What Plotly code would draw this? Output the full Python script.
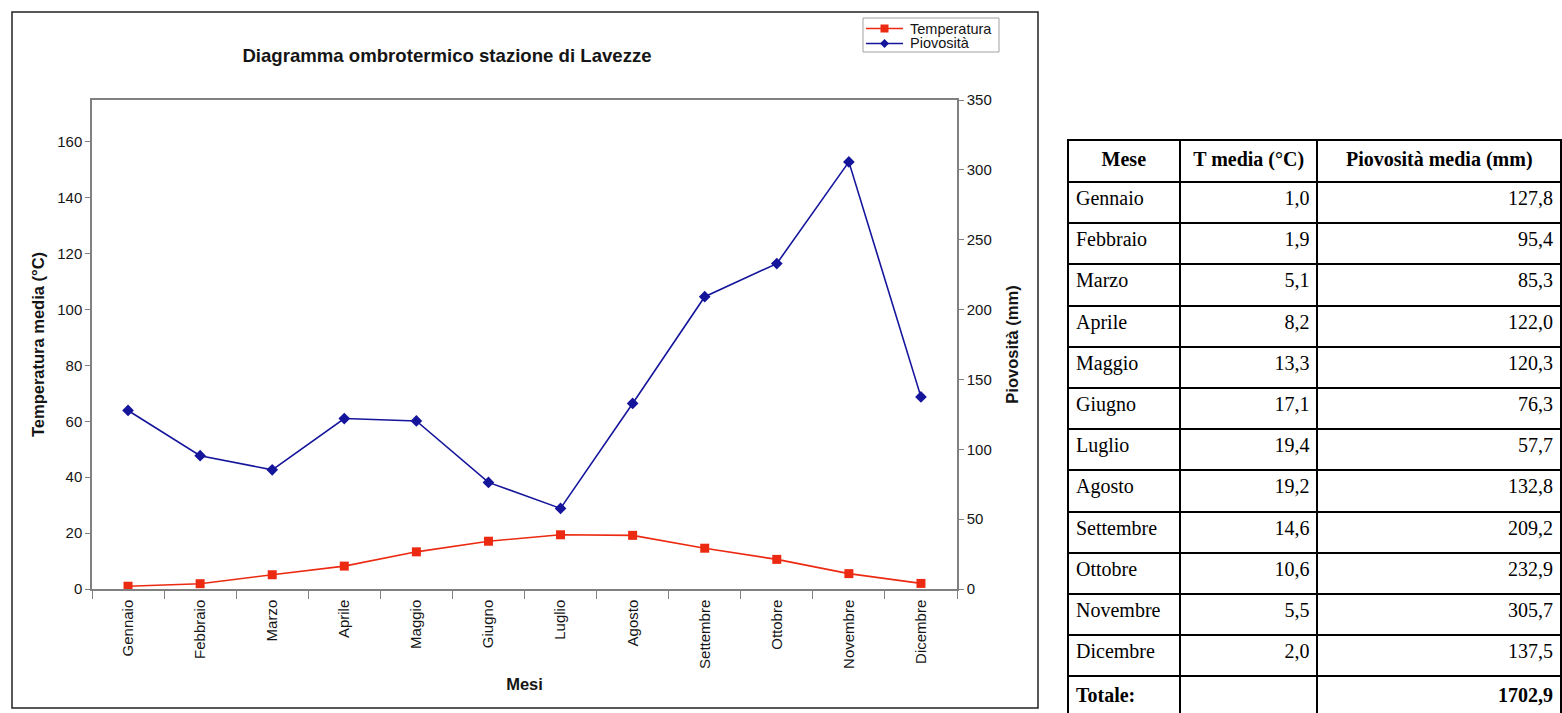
import plotly.graph_objects as go

# Monthly climate normals, Lavezze station
mesi = ["Gennaio", "Febbraio", "Marzo", "Aprile", "Maggio", "Giugno",
        "Luglio", "Agosto", "Settembre", "Ottobre", "Novembre", "Dicembre"]
temperatura = [1.0, 1.9, 5.1, 8.2, 13.3, 17.1, 19.4, 19.2, 14.6, 10.6, 5.5, 2.0]
piovosita = [127.8, 95.4, 85.3, 122.0, 120.3, 76.3, 57.7, 132.8, 209.2, 232.9, 305.7, 137.5]
totale_piovosita = "1702,9"

temp_ticks = [0, 20, 40, 60, 80, 100, 120, 140, 160]
rain_ticks = [0, 50, 100, 150, 200, 250, 300, 350]

W, H = 1562, 713

RED = "#ec2a12"
BLUE = "#15159c"
AX = "#808080"
TXT = "#151515"
FONT = "Liberation Sans, Arial, sans-serif"
SERIF = "Liberation Serif, Times New Roman, serif"


def px_x(v):
    return v / W


def px_y(v):
    return 1 - v / H


def it(v):
    return f"{v:.1f}".replace(".", ",")


fig = go.Figure()

fig.add_trace(go.Scatter(
    x=mesi, y=temperatura, name="Temperatura", yaxis="y",
    mode="lines+markers",
    line=dict(color=RED, width=1.6),
    marker=dict(symbol="square", size=9, color=RED),
))
fig.add_trace(go.Scatter(
    x=mesi, y=piovosita, name="Piovosità", yaxis="y2",
    mode="lines+markers",
    line=dict(color=BLUE, width=1.6),
    marker=dict(symbol="diamond", size=9, color=BLUE),
))

# Data table beside the chart
header_vals = ["<b>Mese</b>", "<b>T media (°C)</b>", "<b>Piovosità media (mm)</b>"]
col_mese = mesi + ["<b>Totale:</b>"]
col_temp = [it(t) for t in temperatura] + [""]
col_rain = [it(p) for p in piovosita] + [f"<b>{totale_piovosita}</b>"]

fig.add_trace(go.Table(
    domain=dict(x=[px_x(1068), 1.0], y=[0.0, px_y(140)]),
    columnwidth=[112, 138, 244],
    header=dict(
        values=header_vals,
        align=["center", "center", "center"],
        font=dict(family=SERIF, size=20, color="black"),
        fill_color="white",
        line=dict(color="black", width=2),
        height=42,
    ),
    cells=dict(
        values=[col_mese, col_temp, col_rain],
        align=["left", "right", "right"],
        font=dict(family=SERIF, size=20, color="black"),
        fill_color="white",
        line=dict(color="black", width=2),
        height=41.2,
    ),
))

# Legend box drawn as annotations and shapes
LEG_Y1, LEG_Y2 = 28.5, 43.5
leg_shapes = [
    dict(type="rect", xref="paper", yref="paper",
         x0=px_x(863), x1=px_x(999), y0=px_y(52), y1=px_y(18),
         line=dict(color="#a0a0a0", width=1), fillcolor="white"),
    dict(type="line", xref="paper", yref="paper",
         x0=px_x(866), x1=px_x(903), y0=px_y(LEG_Y1), y1=px_y(LEG_Y1),
         line=dict(color=RED, width=1.6)),
    dict(type="rect", xref="paper", yref="paper",
         x0=px_x(880.5), x1=px_x(888.5), y0=px_y(LEG_Y1 + 4), y1=px_y(LEG_Y1 - 4),
         line=dict(width=0), fillcolor=RED),
    dict(type="line", xref="paper", yref="paper",
         x0=px_x(866), x1=px_x(903), y0=px_y(LEG_Y2), y1=px_y(LEG_Y2),
         line=dict(color=BLUE, width=1.6)),
    dict(type="path", xref="paper", yref="paper",
         path=(f"M {px_x(884.5)} {px_y(LEG_Y2 - 4.5)} L {px_x(889)} {px_y(LEG_Y2)} "
               f"L {px_x(884.5)} {px_y(LEG_Y2 + 4.5)} L {px_x(880)} {px_y(LEG_Y2)} Z"),
         line=dict(width=0), fillcolor=BLUE),
]
leg_annots = [
    dict(text="Temperatura", xref="paper", yref="paper",
         x=px_x(908), y=px_y(LEG_Y1), xanchor="left", yanchor="middle",
         showarrow=False, font=dict(family=FONT, size=14.5, color=TXT)),
    dict(text="Piovosità", xref="paper", yref="paper",
         x=px_x(908), y=px_y(LEG_Y2), xanchor="left", yanchor="middle",
         showarrow=False, font=dict(family=FONT, size=14.5, color=TXT)),
]

fig.update_layout(
    width=W, height=H, autosize=False,
    margin=dict(l=0, r=0, t=0, b=0, pad=0, autoexpand=False),
    paper_bgcolor="white",
    plot_bgcolor="white",
    font=dict(family=FONT, size=15, color=TXT),
    showlegend=False,
    title=dict(
        text="<b>Diagramma ombrotermico stazione di Lavezze</b>",
        x=px_x(447), xanchor="center", y=px_y(55), yanchor="middle",
        font=dict(family=FONT, size=18.6, color=TXT),
    ),
    xaxis=dict(
        domain=[px_x(92), px_x(957)],
        type="category",
        automargin=False,
        tickson="boundaries",
        ticks="outside", ticklen=8, tickcolor=AX,
        ticklabelstandoff=3,
        tickangle=-90,
        showline=True, linecolor=AX, linewidth=1.5, mirror=True,
        showgrid=False, zeroline=False,
        tickfont=dict(size=15, color=TXT),
        title=dict(text="<b>Mesi</b>", standoff=10,
                   font=dict(size=16.5, color=TXT)),
        range=[-0.5, 11.5],
    ),
    yaxis=dict(
        domain=[px_y(589), px_y(100)],
        range=[0, 175],
        automargin=False,
        tickvals=temp_ticks,
        ticks="outside", ticklen=5, tickcolor=AX,
        showline=True, linecolor=AX, linewidth=1.5,
        showgrid=False, zeroline=False,
        tickfont=dict(size=15, color=TXT),
        title=dict(text="<b>Temperatura media (°C)</b>", standoff=8,
                   font=dict(size=16.5, color=TXT)),
    ),
    yaxis2=dict(
        overlaying="y", side="right", anchor="x",
        range=[0, 350],
        automargin=False,
        tickvals=rain_ticks,
        ticks="outside", ticklen=5, tickcolor=AX,
        showline=True, linecolor=AX, linewidth=1.5,
        showgrid=False, zeroline=False,
        tickfont=dict(size=15, color=TXT),
        title=dict(text="<b>Piovosità (mm)</b>", standoff=16,
                   font=dict(size=16.5, color=TXT)),
    ),
    shapes=[
        dict(type="rect", xref="paper", yref="paper",
             x0=px_x(12), x1=px_x(1038), y0=px_y(708), y1=px_y(12),
             line=dict(color="#222222", width=1.5)),
    ] + leg_shapes,
    annotations=leg_annots,
)

fig.write_html("out.html")
